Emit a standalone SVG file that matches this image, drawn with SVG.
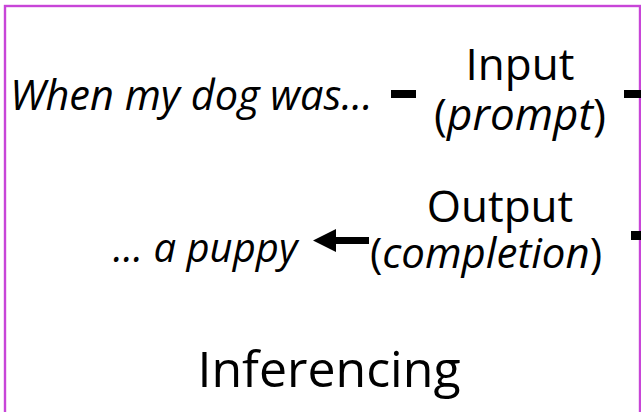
<svg xmlns="http://www.w3.org/2000/svg" width="641" height="412" viewBox="0 0 641 412">
<style>
.t{font-family:"Open Sans","Noto Sans","DejaVu Sans",sans-serif;fill:#000}
.i{font-style:italic}
.bar{fill:#000}
</style>
<rect x="0" y="0" width="641" height="412" fill="#fff"/>
<rect id="frame" x="5" y="6" width="635" height="430" fill="none" stroke="#C845D8" stroke-width="2.4"/>
<g id="prompt-text"><text class="t i" x="10" y="110" font-size="41.5">When my dog was...</text></g>
<g id="input"><text class="t" font-size="44" text-anchor="middle"><tspan x="520" y="80">Input</tspan><tspan x="520" y="130">(<tspan class="i">prompt</tspan>)</tspan></text></g>
<g id="output"><text class="t" text-anchor="middle"><tspan x="500" y="222" font-size="44">Output</tspan><tspan x="486" y="268" font-size="42">(<tspan class="i">completion</tspan>)</tspan></text></g>
<g id="completion-text"><text class="t i" x="113" y="262" font-size="40">... a puppy</text></g>
<g id="title"><text class="t" x="329" y="387" font-size="50" text-anchor="middle">Inferencing</text></g>
<g id="connectors">
<rect class="bar" x="391" y="90" width="25" height="8"/>
<rect class="bar" x="624" y="90" width="17" height="8"/>
<rect class="bar" x="631" y="231" width="10" height="9"/>
<path class="bar" d="M369 237 L336 237 L336 229 L313 240.5 L336 252 L336 244 L369 244 Z"/>
</g>
</svg>
